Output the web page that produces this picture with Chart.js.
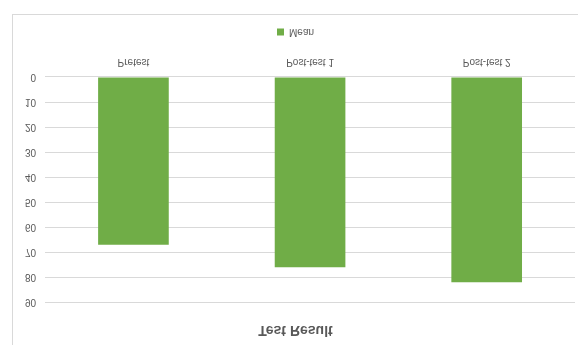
<!DOCTYPE html>
<html>
<head>
<meta charset="utf-8">
<script src="https://cdn.jsdelivr.net/npm/chart.js@4"></script>
<style>
  html, body { margin: 0; padding: 0; background: #fff; overflow: hidden; }
  #frame { position: absolute; left: 12px; top: 14px; width: 620px; height: 400px; border: 1px solid #d9d9d9; }
  /* o gráfico original está de cabeça para baixo */
  #wrap { position: absolute; left: 0; top: 0; width: 578px; height: 345px; transform: scaleY(-1); }
</style>
</head>
<body>
<div id="frame"></div>
<div id="wrap"><canvas id="chart"></canvas></div>
<script>
// Dados
const categories = ['Pretest', 'Post-test 1', 'Post-test 2'];
const meanValues = [67, 76, 82];
const yTicks = [0, 10, 20, 30, 40, 50, 60, 70, 80, 90];

const cinza = '#595959';

new Chart(document.getElementById('chart').getContext('2d'), {
  type: 'bar',
  data: {
    labels: categories,
    datasets: [{
      label: 'Mean',
      data: meanValues,
      backgroundColor: '#70ad47',
      borderWidth: 0,
      categoryPercentage: 1,
      barPercentage: 0.4
    }]
  },
  options: {
    responsive: true,
    maintainAspectRatio: false,
    animation: false,
    layout: { padding: { left: 16, right: 3, top: 0, bottom: 17 } },
    plugins: {
      title: {
        display: true,
        text: 'Test Result',
        color: cinza,
        font: { family: 'Liberation Sans', size: 14, weight: 'bold' },
        padding: { top: 7, bottom: 19 }
      },
      legend: {
        position: 'bottom',
        labels: {
          color: cinza,
          boxWidth: 7,
          boxHeight: 7,
          font: { family: 'Liberation Sans', size: 10 }
        }
      },
      tooltip: { enabled: false }
    },
    scales: {
      x: {
        grid: { display: false, drawTicks: false },
        border: { display: false },
        ticks: { color: cinza, font: { family: 'Liberation Sans', size: 10 }, padding: 9 }
      },
      y: {
        min: yTicks[0],
        max: yTicks[yTicks.length - 1],
        afterBuildTicks: (axis) => { axis.ticks = yTicks.map(v => ({ value: v })); },
        grid: { color: '#d9d9d9', drawTicks: false },
        border: { display: false },
        ticks: { color: cinza, font: { family: 'Liberation Sans', size: 10 }, padding: 9 }
      }
    }
  }
});
</script>
</body>
</html>
